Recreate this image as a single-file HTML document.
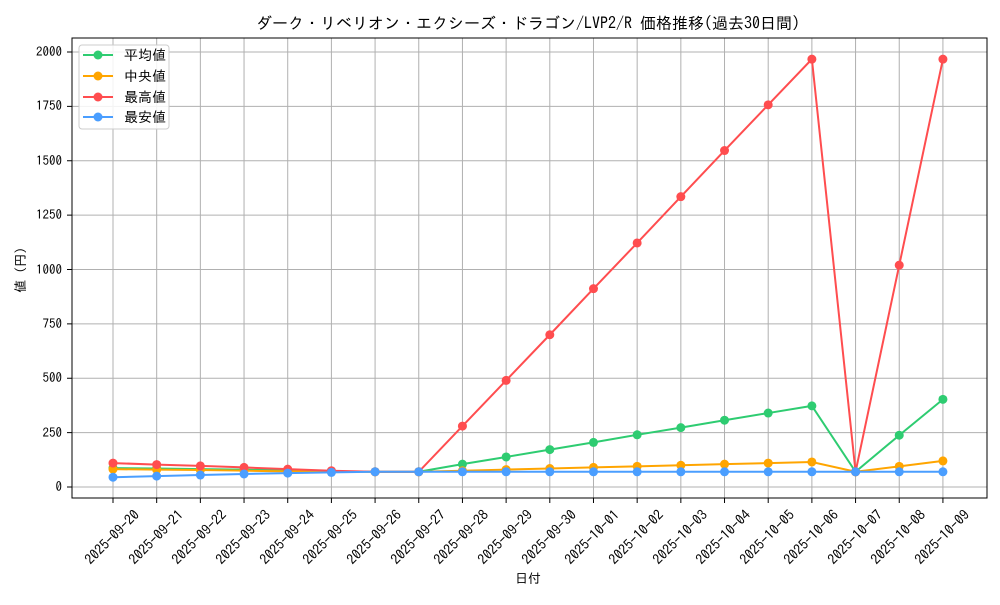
<!DOCTYPE html>
<html><head><meta charset="utf-8"><style>
body{margin:0;background:#fff}
text{font-family:"IPAGothic","Noto Sans CJK JP",monospace;fill:#000}
</style></head><body>
<svg id="s" width="1000" height="600" xmlns="http://www.w3.org/2000/svg">
<rect width="1000" height="600" fill="#fff"/>
<text x="528" y="29" font-size="16" text-anchor="middle">ダーク・リベリオン・エクシーズ・ドラゴン/LVP2/R 価格推移(過去30日間)</text>
<g id="grid" stroke="#b0b0b0" stroke-width="1"></g>
<g id="series"></g>
<rect x="72" y="38" width="915" height="460" fill="none" stroke="#000" stroke-width="1"/>
<g font-size="13" text-anchor="end">
<text x="62" y="491">0</text><text x="62" y="437">250</text><text x="62" y="382">500</text><text x="62" y="328">750</text><text x="62" y="274">1000</text><text x="62" y="219">1250</text><text x="62" y="165">1500</text><text x="62" y="110">1750</text><text x="62" y="56">2000</text>
</g>
<g font-size="14" text-anchor="middle" dominant-baseline="central" id="xl">
<text transform="translate(112,537) rotate(-45)">2025-09-20</text>
<text transform="translate(156,537) rotate(-45)">2025-09-21</text>
<text transform="translate(199,537) rotate(-45)">2025-09-22</text>
<text transform="translate(243,537) rotate(-45)">2025-09-23</text>
<text transform="translate(287,537) rotate(-45)">2025-09-24</text>
<text transform="translate(330,537) rotate(-45)">2025-09-25</text>
<text transform="translate(374,537) rotate(-45)">2025-09-26</text>
<text transform="translate(418,537) rotate(-45)">2025-09-27</text>
<text transform="translate(461,537) rotate(-45)">2025-09-28</text>
<text transform="translate(505,537) rotate(-45)">2025-09-29</text>
<text transform="translate(549,537) rotate(-45)">2025-09-30</text>
<text transform="translate(592,537) rotate(-45)">2025-10-01</text>
<text transform="translate(636,537) rotate(-45)">2025-10-02</text>
<text transform="translate(680,537) rotate(-45)">2025-10-03</text>
<text transform="translate(723,537) rotate(-45)">2025-10-04</text>
<text transform="translate(767,537) rotate(-45)">2025-10-05</text>
<text transform="translate(811,537) rotate(-45)">2025-10-06</text>
<text transform="translate(855,537) rotate(-45)">2025-10-07</text>
<text transform="translate(898,537) rotate(-45)">2025-10-08</text>
<text transform="translate(942,537) rotate(-45)">2025-10-09</text>
</g>
<text x="528" y="583" font-size="13" text-anchor="middle">日付</text>
<text transform="translate(25,270) rotate(-90)" font-size="13" text-anchor="middle">値 (円)</text>
<g>
<rect x="79" y="45" width="90" height="84" fill="#fff" fill-opacity="0.85" stroke="#ccc" rx="3"/>
<line x1="83" y1="55" x2="113" y2="55" stroke="#2ecc71" stroke-width="2"/><circle cx="98" cy="55" r="4.5" fill="#2ecc71"/><text x="124" y="60" font-size="14">平均値</text>
<line x1="83" y1="76" x2="113" y2="76" stroke="#ffa500" stroke-width="2"/><circle cx="98" cy="76" r="4.5" fill="#ffa500"/><text x="124" y="81" font-size="14">中央値</text>
<line x1="83" y1="97" x2="113" y2="97" stroke="#ff4d4f" stroke-width="2"/><circle cx="98" cy="97" r="4.5" fill="#ff4d4f"/><text x="124" y="102" font-size="14">最高値</text>
<line x1="83" y1="117" x2="113" y2="117" stroke="#4a9eff" stroke-width="2"/><circle cx="98" cy="117" r="4.5" fill="#4a9eff"/><text x="124" y="122" font-size="14">最安値</text>
</g>
</svg>
<script>
var ns="http://www.w3.org/2000/svg";
function X(i){return 113+43.68*i}
function Y(v){return 487-v*0.2175}
var g=document.getElementById('grid');
function ln(p,a){var e=document.createElementNS(ns,'line');for(var k in a)e.setAttribute(k,a[k]);p.appendChild(e);}
for(var i=0;i<20;i++){ln(g,{x1:X(i),x2:X(i),y1:38,y2:498});ln(g,{x1:X(i),x2:X(i),y1:498,y2:503,stroke:'#000'});}
for(var v=0;v<=2000;v+=250){ln(g,{x1:72,x2:987,y1:Y(v),y2:Y(v)});ln(g,{x1:67,x2:72,y1:Y(v),y2:Y(v),stroke:'#000'});}
var S=[
["#2ecc71",[87,85,82,80,76,72,70,70,105,138,172,205,240,273,307,340,373,70,238,403]],
["#ffa500",[82,80,78,75,72,70,70,70,75,80,85,90,95,100,105,110,115,70,95,120]],
["#ff4d4f",[110,103,97,90,82,75,70,70,280,490,700,912,1122,1335,1547,1757,1967,70,1020,1967]],
["#4a9eff",[45,50,55,60,64,67,70,70,70,70,70,70,70,70,70,70,70,70,70,70]]];
var sg=document.getElementById('series');
S.forEach(function(s){var p=document.createElementNS(ns,'polyline');
p.setAttribute('points',s[1].map(function(v,i){return X(i)+','+Y(v)}).join(' '));
p.setAttribute('fill','none');p.setAttribute('stroke',s[0]);p.setAttribute('stroke-width','2');sg.appendChild(p);
s[1].forEach(function(v,i){var c=document.createElementNS(ns,'circle');c.setAttribute('cx',X(i));c.setAttribute('cy',Y(v));c.setAttribute('r',4.5);c.setAttribute('fill',s[0]);sg.appendChild(c);});});
</script>
</body></html>
